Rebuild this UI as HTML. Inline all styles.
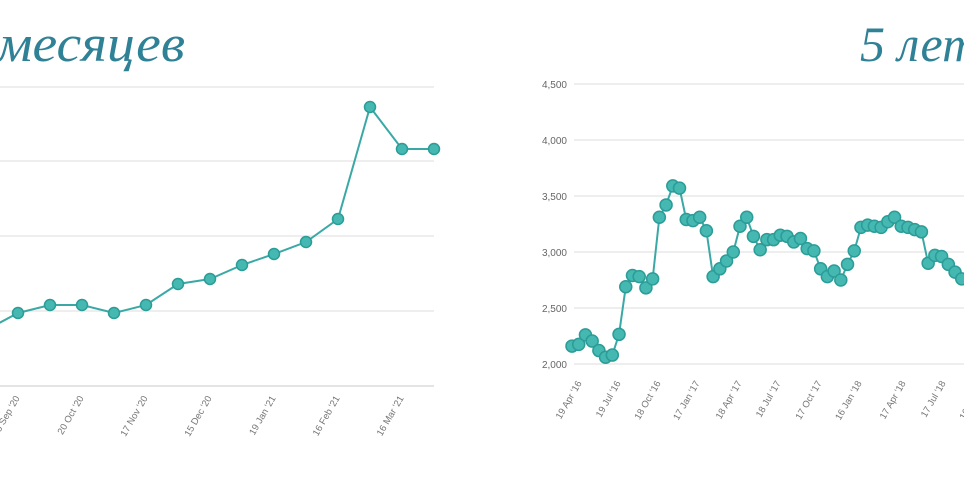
<!DOCTYPE html>
<html><head><meta charset="utf-8"><style>
html,body{margin:0;padding:0;background:#fff;width:964px;height:482px;overflow:hidden}
svg{display:block}
</style></head><body>
<svg id="s" width="964" height="482" xmlns="http://www.w3.org/2000/svg">
<text x="-3" y="61" textLength="188" lengthAdjust="spacingAndGlyphs" font-family="Liberation Serif, serif" font-style="italic" font-size="52" fill="#2f8196">месяцев</text>
<text x="860" y="61" font-family="Liberation Serif, serif" font-style="italic" font-size="50" fill="#2f8196">5 лет</text>
<g stroke="#e8e8e8" stroke-width="1.5">
<line x1="0" y1="87" x2="434" y2="87"/><line x1="0" y1="161" x2="434" y2="161"/><line x1="0" y1="236" x2="434" y2="236"/><line x1="0" y1="311" x2="434" y2="311"/><line x1="0" y1="386" x2="434" y2="386" stroke="#dcdcdc"/>
<line x1="574" y1="84" x2="964" y2="84"/><line x1="574" y1="140" x2="964" y2="140"/><line x1="574" y1="196" x2="964" y2="196"/><line x1="574" y1="252" x2="964" y2="252"/><line x1="574" y1="308" x2="964" y2="308"/><line x1="574" y1="364" x2="964" y2="364"/>
</g>
<g font-family="Liberation Sans, sans-serif" font-size="10" fill="#666" text-anchor="end">
<text x="567" y="88">4,500</text><text x="567" y="144">4,000</text><text x="567" y="200">3,500</text><text x="567" y="256">3,000</text><text x="567" y="312">2,500</text><text x="567" y="368">2,000</text>
</g>
<g id="g"></g>
</svg>
<script>
var ns="http://www.w3.org/2000/svg",g=document.getElementById('g');
function el(n,a){var e=document.createElementNS(ns,n);for(var k in a)e.setAttribute(k,a[k]);g.appendChild(e);return e;}
function series(pts,r){
 el('polyline',{points:pts.map(p=>p.join(',')).join(' '),fill:'none',stroke:'#3aa9a5','stroke-width':2});
 pts.forEach(p=>el('circle',{cx:p[0],cy:p[1],r:r,fill:'#45b8b2',stroke:'#2b9c97','stroke-width':1.5}));
}
function lab(x,y,t){var e=el('text',{x:x,y:y,'text-anchor':'end','font-family':'Liberation Sans, sans-serif','font-size':9.5,fill:'#777',transform:'rotate(-60 '+x+' '+y+')'});e.textContent=t;}
var L=[[-14,330],[18,313],[50,305],[82,305],[114,313],[146,305],[178,284],[210,279],[242,265],[274,254],[306,242],[338,219],[370,107],[402,149],[434,149]];
series(L,5.5);
var ll=[[18,"15 Sep '20"],[82,"20 Oct '20"],[146,"17 Nov '20"],[210,"15 Dec '20"],[274,"19 Jan '21"],[338,"16 Feb '21"],[402,"16 Mar '21"]];
ll.forEach(a=>lab(a[0]+2,398,a[1]));
var V=[2160,2175,2260,2205,2120,2060,2080,2265,2690,2790,2780,2680,2760,3310,3420,3590,3570,3290,3280,3310,3190,2780,2850,2920,3000,3230,3310,3140,3020,3110,3110,3150,3140,3090,3120,3030,3010,2850,2780,2830,2750,2890,3010,3220,3240,3230,3220,3270,3310,3230,3220,3200,3180,2900,2970,2960,2890,2820,2760];
var R=V.map((v,i)=>[572+i*6.72,364-(v-2000)*0.112]);
series(R,6);
var rl=[[582,"19 Apr '16"],[621,"19 Jul '16"],[661,"18 Oct '16"],[700,"17 Jan '17"],[742,"18 Apr '17"],[781,"18 Jul '17"],[822,"17 Oct '17"],[862,"16 Jan '18"],[906,"17 Apr '18"],[946,"17 Jul '18"],[986,"16 Oct '18"]];
rl.forEach(a=>lab(a[0],383,a[1]));
</script>
</body></html>
